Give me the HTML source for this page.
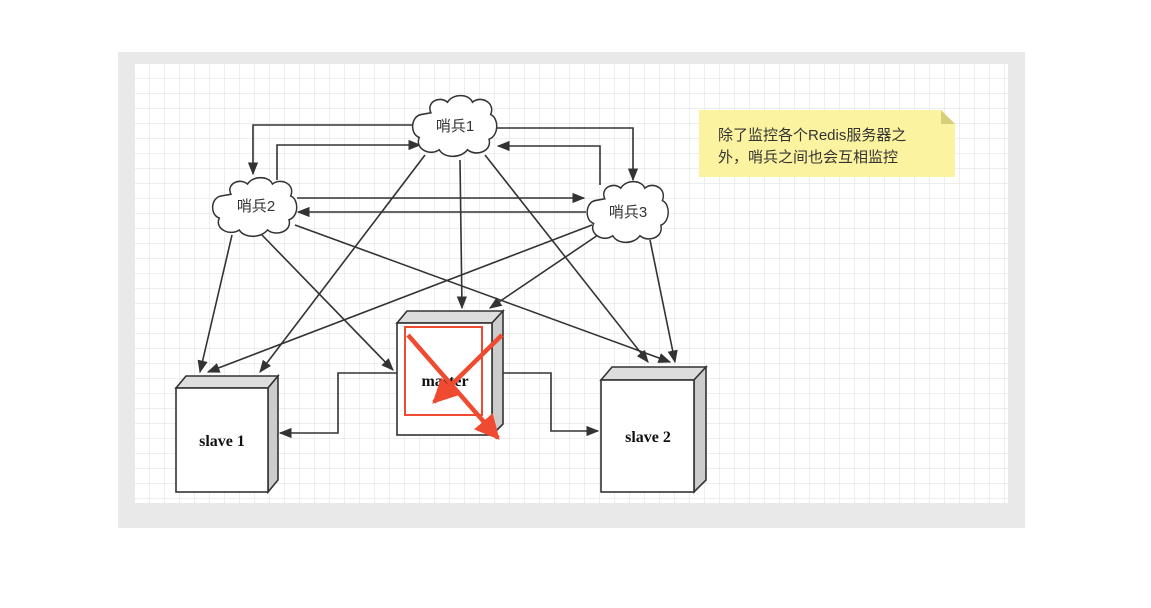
<!DOCTYPE html>
<html><head><meta charset="utf-8"><style>
body{margin:0;width:1151px;height:608px;background:#fff;overflow:hidden}
svg{position:absolute;left:0;top:0}
</style></head><body>
<svg width="1151" height="608" viewBox="0 0 1151 608" font-family="Liberation Sans, Noto Sans CJK SC, sans-serif">
<defs>
<pattern id="g" x="135" y="64" width="15" height="15" patternUnits="userSpaceOnUse">
<path d="M15 0V15H0" fill="none" stroke="#dedede" stroke-width="1"/>
</pattern>
<marker id="a" viewBox="0 0 10 10" refX="9" refY="5" markerWidth="8" markerHeight="8" orient="auto"><path d="M0 1L10 5L0 9z" fill="#333"/></marker>
<marker id="r" viewBox="0 0 10 10" refX="9" refY="5" markerWidth="5.5" markerHeight="5.5" orient="auto"><path d="M0 0L10 5L0 10z" fill="#f04a30"/></marker>
<path id="c" d="M420 110c-6-12 10-20 20-12c6-10 26-10 30 0c10-8 28 0 22 14c10 4 10 24-2 28c4 14-16 20-26 12c-8 10-28 10-34 0c-12 8-30-2-24-14c-12-4-10-24 2-26z"/>
</defs>
<rect x="118" y="52" width="907" height="476" fill="#e9e9e9"/>
<rect x="135" y="64" width="873" height="439" fill="#fff"/>
<rect x="135" y="64" width="873" height="439" fill="url(#g)"/>
<g stroke="#333" stroke-width="1.6" fill="none" marker-end="url(#a)">
<path d="M415 125H253V174"/>
<path d="M277 180V145H420"/>
<path d="M497 128H633V180"/>
<path d="M600 185V146H498"/>
<path d="M297 198H584"/>
<path d="M586 212H298"/>
<path d="M425 155L260 372"/>
<path d="M460 160L462 308"/>
<path d="M485 155L648 362"/>
<path d="M232 235L200 372"/>
<path d="M262 235L393 370"/>
<path d="M295 225L670 362"/>
<path d="M592 225L208 372"/>
<path d="M598 235L490 308"/>
<path d="M650 240L675 362"/>
<path d="M397 373H338V433H280"/>
<path d="M503 373H551V431H598"/>
</g>
<g stroke="#333" stroke-width="1.8" fill="#fff">
<use href="#c" transform="translate(455,126) scale(0.83,0.88) translate(-449,-125)"/>
<use href="#c" transform="translate(255,207) scale(0.83,0.85) translate(-449,-125)"/>
<use href="#c" transform="translate(628,212) scale(0.8,0.88) translate(-449,-125)"/>
</g>
<g font-size="15" fill="#333" text-anchor="middle">
<text x="455" y="131">哨兵1</text>
<text x="256" y="211">哨兵2</text>
<text x="628" y="217">哨兵3</text>
</g>
<g stroke="#333" stroke-width="1.6">
<path d="M176 388L186 376H278L268 388z" fill="#ddd"/>
<path d="M268 388L278 376V480L268 492z" fill="#ccc"/>
<rect x="176" y="388" width="92" height="104" fill="#fff"/>
<path d="M397 323L407 311H503L492 323z" fill="#ddd"/>
<path d="M492 323L503 311V424L492 435z" fill="#ccc"/>
<rect x="397" y="323" width="95" height="112" fill="#fff"/>
<path d="M601 380L612 367H706L694 380z" fill="#ddd"/>
<path d="M694 380L706 367V480L694 492z" fill="#ccc"/>
<rect x="601" y="380" width="93" height="112" fill="#fff"/>
</g>
<g font-family="Liberation Serif, serif" font-weight="bold" font-size="16" fill="#111" text-anchor="middle">
<text x="222" y="446">slave 1</text>
<text x="445" y="386">master</text>
<text x="648" y="442">slave 2</text>
</g>
<rect x="405" y="327" width="77" height="88" fill="none" stroke="#f04a30" stroke-width="2"/>
<g stroke="#f04a30" stroke-width="4.5" fill="none" marker-end="url(#r)">
<path d="M408 335L498 438"/>
<path d="M502 335L434 402"/>
</g>
<path d="M699 110H941L955 124V177H699z" fill="#fbf3a0"/>
<path d="M941 110V124H955z" fill="#d8ce7a"/>
<g font-size="15" fill="#333"><text x="718" y="140">除了监控各个Redis服务器之</text><text x="718" y="162">外，哨兵之间也会互相监控</text></g>
</svg>
</body></html>
